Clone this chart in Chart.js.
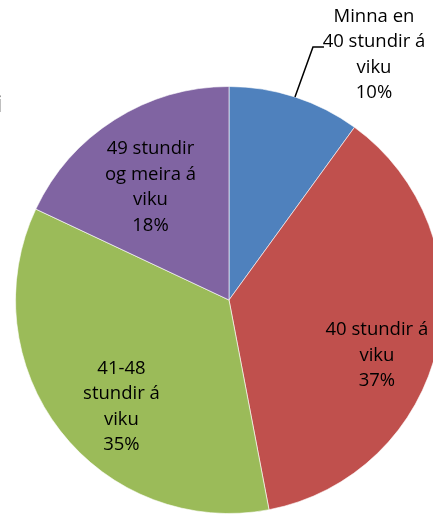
<!DOCTYPE html>
<html>
<head>
<meta charset="utf-8">
<script src="https://cdn.jsdelivr.net/npm/chart.js@4.4.1/dist/chart.umd.min.js"></script>
<style>
  html, body { margin: 0; padding: 0; background: #fff; overflow: hidden; }
  #wrap { position: relative; width: 458px; height: 514px; }
</style>
</head>
<body>
<div id="wrap"><canvas id="myChart"></canvas></div>
<script>
// values
var flokkar = [
  ['Minna en', '40 stundir á', 'viku'],
  ['40 stundir á', 'viku'],
  ['41-48', 'stundir á', 'viku'],
  ['49 stundir', 'og meira á', 'viku']
];
var hlutfall = [10, 37, 35, 18];
var litir = ['#4F81BD', '#C0504D', '#9BBB59', '#8064A2'];

// where each label sits: angle shift (deg) from slice middle, fraction of radius
var merkiStada = [null, [8, 0.74], [-7, 0.71], [-2.5, 0.643]];

var merkiPlugin = {
  id: 'merki',
  afterDatasetsDraw: function(chart) {
    var ctx = chart.ctx;
    var meta = chart.getDatasetMeta(0);
    ctx.save();
    // clipped remains of the title at the far left edge
    ctx.font = '24px "Open Sans"';
    ctx.fillStyle = '#000';
    ctx.textAlign = 'left';
    ctx.textBaseline = 'alphabetic';
    var m = ctx.measureText('i');
    ctx.fillText('i', 1.3 - m.actualBoundingBoxRight, 112);

    ctx.font = '18.5px "Open Sans"';
    ctx.textAlign = 'center';
    ctx.textBaseline = 'middle';
    var lh = 25.5;
    meta.data.forEach(function(arc, i) {
      var p = arc.getProps(['x', 'y', 'startAngle', 'endAngle', 'outerRadius'], true);
      var mid = (p.startAngle + p.endAngle) / 2;
      var lines = flokkar[i].concat([hlutfall[i] + '%']);
      var cx, cy;
      if (merkiStada[i]) {
        var a = mid + merkiStada[i][0] * Math.PI / 180;
        var r = p.outerRadius * merkiStada[i][1];
        cx = p.x + Math.cos(a) * r;
        cy = p.y + Math.sin(a) * r;
      } else {
        // outside label with leader line
        var ex = p.x + Math.cos(mid) * p.outerRadius;
        var ey = p.y + Math.sin(mid) * p.outerRadius;
        var kx = ex + 18, ky = ey - 50;
        ctx.strokeStyle = '#000';
        ctx.lineWidth = 1.5;
        ctx.beginPath();
        ctx.moveTo(ex, ey);
        ctx.lineTo(kx, ky);
        ctx.lineTo(kx + 11, ky);
        ctx.stroke();
        cx = kx + 61;
        cy = ky + 8;
      }
      var y0 = cy - (lines.length - 1) * lh / 2;
      lines.forEach(function(t, j) {
        ctx.fillText(t, cx, y0 + j * lh);
      });
    });
    ctx.restore();
  }
};

var ctx = document.getElementById('myChart');
var myChart = new Chart(ctx, {
  type: 'pie',
  data: {
    labels: flokkar.map(function(l) { return l.join(' '); }),
    datasets: [{
      data: hlutfall,
      backgroundColor: litir,
      borderColor: 'rgba(255,255,255,0.6)',
      borderWidth: 1
    }]
  },
  options: {
    responsive: true,
    maintainAspectRatio: false,
    animation: false,
    layout: { padding: { top: 86, bottom: 0, left: 15, right: 15 } },
    plugins: {
      legend: { display: false },
      tooltip: { enabled: false }
    }
  },
  plugins: [merkiPlugin]
});
</script>
</body>
</html>
